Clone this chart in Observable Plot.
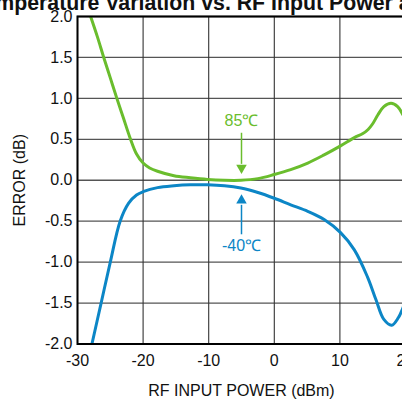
<!DOCTYPE html>
<html>
<head>
<meta charset="utf-8">
<script src="https://cdn.jsdelivr.net/npm/d3@7"></script>
<script src="https://cdn.jsdelivr.net/npm/@observablehq/plot@0.6"></script>
<style>
  html, body { margin: 0; padding: 0; background: #fff; overflow: hidden; }
  body { width: 402px; height: 399px; position: relative; font-family: "Liberation Sans", Arial, sans-serif; }
  #title { position: absolute; left: -28px; top: -9px; font-size: 21.3px; font-weight: bold; white-space: nowrap; color: #111; z-index: 2; }
  #chart { position: absolute; left: 0; top: 0; width: 425px; }
  #chart svg { max-width: none !important; }
</style>
</head>
<body>
<div id="title">Temperature Variation vs. RF Input Power at 2.14GHz</div>
<div id="chart"></div>
<script>
// RF input power (dBm) and error (dB) for 85°C
const power85 = [-28.0, -27.0, -26.0, -25.0, -24.0, -23.0, -22.0, -21.0, -20.0, -19.0, -17.8, -15.3, -12.8, -10.2, -7.6, -5.1, -2.5, 0, 2.5, 5.1, 7.6, 10.1, 12.2, 13.5, 14.3, 15.0, 15.8, 16.7, 17.8, 18.8, 19.6, 20];
const error85 = [2.0, 1.76, 1.5, 1.25, 1.0, 0.76, 0.52, 0.32, 0.21, 0.15, 0.11, 0.055, 0.03, 0.01, 0.0, 0.0, 0.02, 0.07, 0.13, 0.21, 0.31, 0.42, 0.52, 0.57, 0.62, 0.69, 0.8, 0.9, 0.94, 0.9, 0.8, 0.74];
// RF input power (dBm) and error (dB) for -40°C
const powerM40 = [-27.8, -26.4, -25.0, -23.5, -22.2, -21.0, -20.0, -17.8, -15.3, -12.8, -10.2, -7.6, -5.1, -2.5, 0, 2.5, 5.1, 7.6, 10.1, 12.2, 14.2, 15.5, 16.7, 17.9, 18.9, 19.6, 20];
const errorM40 = [-2.0, -1.5, -1.0, -0.5, -0.28, -0.18, -0.14, -0.09, -0.067, -0.055, -0.055, -0.067, -0.095, -0.15, -0.22, -0.30, -0.38, -0.48, -0.64, -0.85, -1.18, -1.46, -1.70, -1.77, -1.68, -1.56, -1.48];

const xTicks = [-30, -20, -10, 0, 10, 20];
const yTicks = [-2.0, -1.5, -1.0, -0.5, 0.0, 0.5, 1.0, 1.5, 2.0];

const seriesNames = ["85℃", "-40℃"];
const seriesColors = ["#6abd2d", "#0c86c6"];
// annotation: label position, arrow tail, arrow head base, arrow tip
const labelPower = [-5, -5];
const labelError = [0.72, -0.8];
const arrowTail = [0.58, -0.66];
const arrowBase = [0.2, -0.3];
const arrowTip = [0.08, -0.175];

const d85 = power85.map((p, i) => ({p, e: error85[i]}));
const dM40 = powerM40.map((p, i) => ({p, e: errorM40[i]}));
const ann = seriesNames.map((name, i) => ({
  name, color: seriesColors[i], p: labelPower[i], e: labelError[i],
  tail: arrowTail[i], base: arrowBase[i], tip: arrowTip[i]
}));

const chart = Plot.plot({
  width: 425,
  height: 399,
  marginLeft: 77,
  marginRight: 20,
  marginTop: 16,
  marginBottom: 55.5,
  style: {fontFamily: "'Liberation Sans', Arial, sans-serif", fontSize: "16px", color: "#111", background: "#fff", maxWidth: "none"},
  x: {domain: [-30, 20], ticks: xTicks},
  y: {domain: [-2, 2], ticks: yTicks},
  marks: [
    Plot.gridY(yTicks, {stroke: "#555", strokeOpacity: 1, strokeWidth: 1.3}),
    Plot.gridX(xTicks, {stroke: "#333", strokeOpacity: 1, strokeWidth: 1.1}),
    Plot.axisX({ticks: xTicks, tickSize: 0, tickPadding: 11, tickFormat: d => String(d), label: "RF INPUT POWER (dBm)", labelAnchor: "center", labelArrow: "none", labelOffset: 52, fontSize: 16}),
    Plot.axisY({ticks: yTicks, tickSize: 0, tickPadding: 5, tickFormat: d => d.toFixed(1), label: "ERROR (dB)", labelAnchor: "center", labelArrow: "none", labelOffset: 64, fontSize: 16}),
    Plot.line(d85, {x: "p", y: "e", stroke: seriesColors[0], strokeWidth: 3, curve: "catmull-rom", clip: true}),
    Plot.line(dM40, {x: "p", y: "e", stroke: seriesColors[1], strokeWidth: 3, curve: "catmull-rom", clip: true}),
    Plot.link(ann, {x1: "p", x2: "p", y1: "tail", y2: "base", stroke: "color", strokeWidth: 1.5}),
    Plot.dot([ann[0]], {x: "p", y: "tip", symbol: "triangle", r: 3.9, fill: "color", stroke: "none", rotate: 180, dy: -5.8}),
    Plot.dot([ann[1]], {x: "p", y: "tip", symbol: "triangle", r: 3.9, fill: "color", stroke: "none", rotate: 0, dy: 5.8}),
    Plot.text(ann, {x: "p", y: "e", text: "name", fill: "color", fontSize: 16}),
    Plot.frame({stroke: "#000", strokeWidth: 2})
  ]
});
document.getElementById("chart").append(chart);
</script>
</body>
</html>
